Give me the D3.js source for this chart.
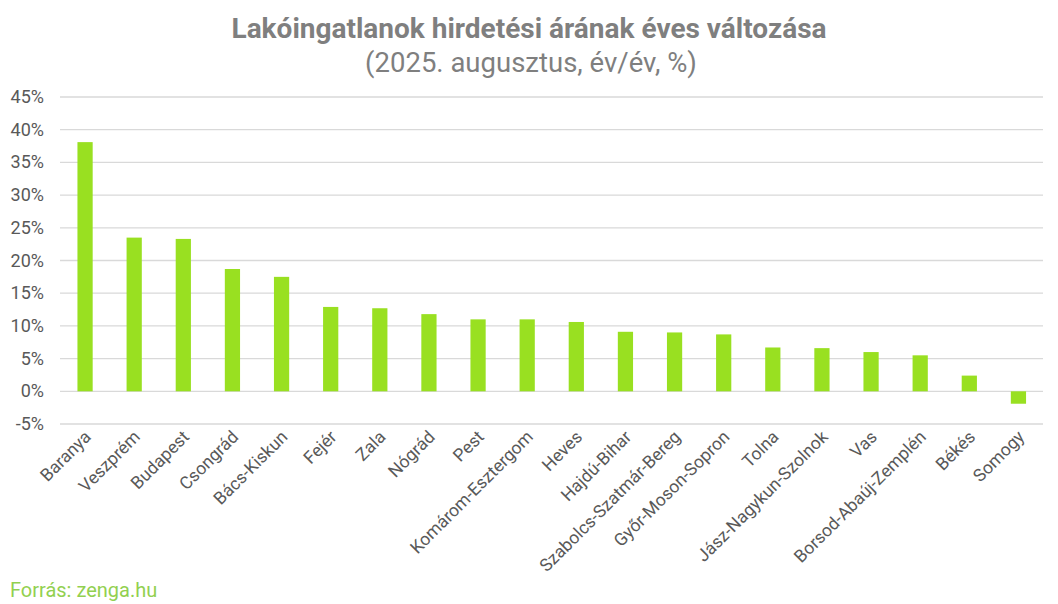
<!DOCTYPE html>
<html><head><meta charset="utf-8">
<script src="https://cdn.jsdelivr.net/npm/d3@7"></script>
<style>body{margin:0;background:#fff;font-family:Roboto,sans-serif}</style>
</head><body><div id="chart"></div>
<script>
// county names and yearly change (%)
var counties = ["Baranya","Veszprém","Budapest","Csongrád","Bács-Kiskun","Fejér","Zala","Nógrád","Pest",
  "Komárom-Esztergom","Heves","Hajdú-Bihar","Szabolcs-Szatmár-Bereg","Győr-Moson-Sopron","Tolna",
  "Jász-Nagykun-Szolnok","Vas","Borsod-Abaúj-Zemplén","Békés","Somogy"];
var values = [38.1,23.5,23.3,18.7,17.5,12.9,12.7,11.8,11.0,11.0,10.6,9.1,9.0,8.7,6.7,6.6,6.0,5.5,2.4,-1.9];
var ticks = [-5,0,5,10,15,20,25,30,35,40,45];

var width = 1058, height = 604;
var svg = d3.select("#chart").append("svg").attr("width", width).attr("height", height);

var x = d3.scaleBand().domain(counties).range([60.5, 1043]).paddingInner(0.69).paddingOuter(0.345);
var y = d3.scaleLinear().domain([-5, 45]).range([424, 97]);

// gridlines
svg.append("g").selectAll("line").data(ticks).enter().append("line")
  .attr("x1", 60).attr("x2", 1043)
  .attr("y1", function(d){ return y(d); }).attr("y2", function(d){ return y(d); })
  .style("stroke", "#d9d9d9").style("stroke-width", 1.3);

// y labels
svg.append("g").selectAll("text").data(ticks).enter().append("text")
  .attr("x", 44).attr("y", function(d){ return y(d) + 6; })
  .attr("text-anchor", "end").style("font-size", "18px").style("fill", "#595959")
  .text(function(d){ return d + "%"; });

// bars
svg.append("g").selectAll("rect").data(values).enter().append("rect")
  .attr("x", function(d, i){ return x(counties[i]); })
  .attr("width", x.bandwidth())
  .attr("y", function(d){ return y(Math.max(0, d)); })
  .attr("height", function(d){ return Math.abs(y(d) - y(0)); })
  .style("fill", "#99e021");

// x labels, rotated
svg.append("g").selectAll("text").data(counties).enter().append("text")
  .attr("transform", function(d){ return "translate(" + (x(d) + x.bandwidth()/2 + 7) + ",438) rotate(-45)"; })
  .attr("text-anchor", "end").style("font-size", "17.5px").style("fill", "#595959")
  .text(function(d){ return d; });

// title
svg.append("text").attr("x", 529).attr("y", 38).attr("text-anchor", "middle")
  .style("font-size", "28px").style("font-weight", "bold").style("fill", "#7f7f7f")
  .text("Lakóingatlanok hirdetési árának éves változása");
svg.append("text").attr("x", 531).attr("y", 72).attr("text-anchor", "middle")
  .style("font-size", "27.5px").style("fill", "#7f7f7f")
  .text("(2025. augusztus, év/év, %)");

// source
svg.append("text").attr("x", 10).attr("y", 597)
  .style("font-size", "20px").style("fill", "#92d050")
  .text("Forrás: zenga.hu");
</script></body></html>
